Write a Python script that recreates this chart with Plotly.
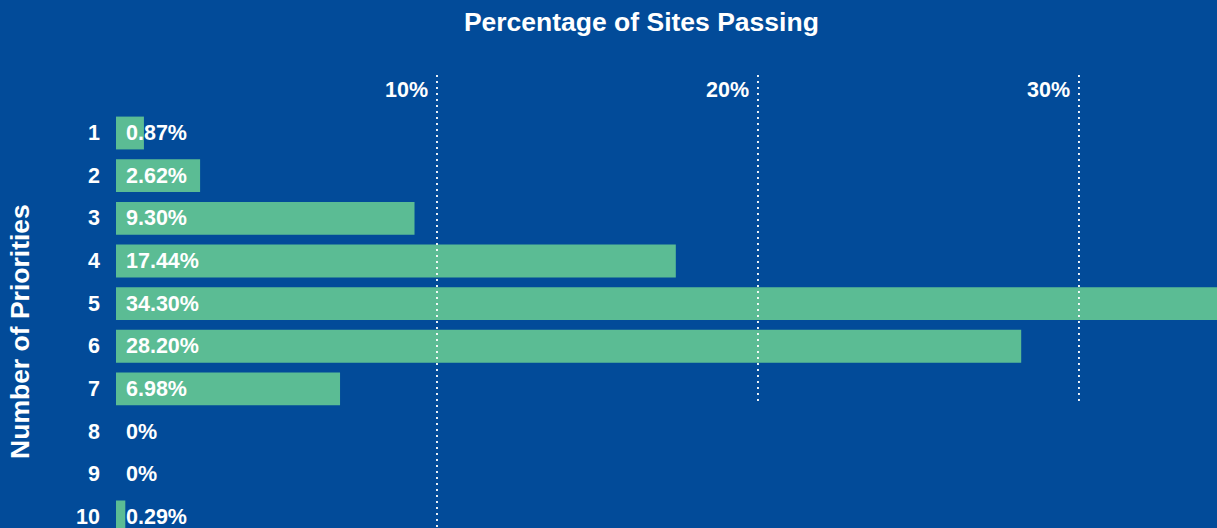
import plotly.graph_objects as go

# ---- data ----
priorities = [1, 2, 3, 4, 5, 6, 7, 8, 9, 10]
pct_passing = [0.87, 2.62, 9.30, 17.44, 34.30, 28.20, 6.98, 0, 0, 0.29]
grid_ticks = [10, 20, 30]
grid_labels = ["10%", "20%", "30%"]

title_text = "Percentage of Sites Passing"
ytitle_text = "Number of Priorities"

BG = "#024b99"
BAR = "#5bbc94"
FONT = "Liberation Sans, Arial, Helvetica, sans-serif"
LBL = 21.5
TTL = 26.5

def fmt(v):
    return "0%" if v == 0 else f"{v:.2f}%"

fig = go.Figure()
fig.add_trace(go.Bar(
    x=pct_passing, y=priorities, orientation="h",
    marker=dict(color=BAR, line=dict(width=0)),
    width=0.77, hoverinfo="skip",
))

# category labels and value labels
for p, v in zip(priorities, pct_passing):
    fig.add_annotation(x=0, y=p, xref="x", yref="y", text=str(p),
                       showarrow=False, xanchor="right", yanchor="middle",
                       xshift=-14, font=dict(family=FONT, size=LBL, color="white", weight="bold"))
    fig.add_annotation(x=0, y=p, xref="x", yref="y", text=fmt(v),
                       showarrow=False, xanchor="left", yanchor="middle",
                       xshift=8, font=dict(family=FONT, size=LBL, color="white", weight="bold"))

# dotted grid lines
for t, lab in zip(grid_ticks, grid_labels):
    y_end = 10.3 if t == grid_ticks[0] else 7.37
    fig.add_shape(type="line", xref="x", yref="y", x0=t, x1=t, y0=-0.36, y1=y_end,
                  line=dict(color="white", width=1.8, dash="2px,4px"), layer="above")
    fig.add_annotation(x=t, y=0.967, xref="x", yref="paper", text=lab, showarrow=False,
                       xanchor="right", yanchor="middle", xshift=-7,
                       font=dict(family=FONT, size=LBL, color="white", weight="bold"))

# axis title
fig.add_annotation(x=-0.0872, y=0.435, xref="paper", yref="paper", text=ytitle_text,
                   textangle=-90, showarrow=False, xanchor="center", yanchor="middle",
                   font=dict(family=FONT, size=TTL, color="white", weight="bold"))

fig.update_layout(
    width=1217, height=528,
    margin=dict(l=116, r=0, t=75, b=0),
    paper_bgcolor=BG, plot_bgcolor=BG,
    showlegend=False,
    title=dict(text=title_text, x=0.527, xref="container", xanchor="center",
               y=1 - 22 / 528, yref="container", yanchor="middle",
               font=dict(family=FONT, size=TTL, color="white", weight="bold")),
    xaxis=dict(range=[0, 34.3], showgrid=False, zeroline=False, showticklabels=False,
               showline=False, fixedrange=True),
    yaxis=dict(range=[10.26, -0.36], showticklabels=False, showgrid=False, zeroline=False,
               showline=False, ticks="", fixedrange=True),
)

fig.write_html("out.html", config={"displayModeBar": False})

# remove default page margin so the figure fills the window
with open("out.html", encoding="utf-8") as f:
    html = f.read()
html = html.replace("<head>", "<head><style>html,body{margin:0;padding:0;background:%s;overflow:hidden;}</style>" % BG, 1)
with open("out.html", "w", encoding="utf-8") as f:
    f.write(html)
